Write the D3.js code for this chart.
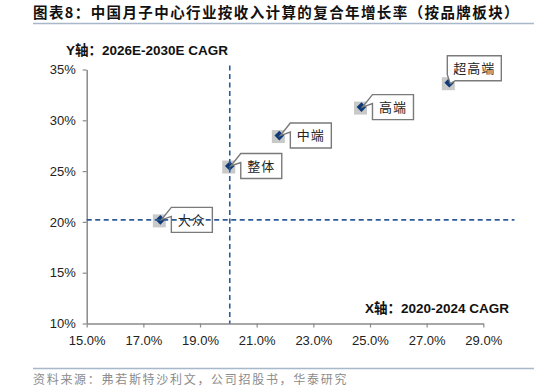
<!DOCTYPE html>
<html>
<head>
<meta charset="utf-8">
<script src="https://cdn.jsdelivr.net/npm/d3@7"></script>
<style>
  body { margin: 0; background: #fff; }
  .latin { font-family: "Liberation Sans", Arial, "Noto Sans CJK SC", sans-serif; }
  .cjk { font-family: "Noto Sans CJK SC", sans-serif; }
</style>
</head>
<body>
<div id="chart"></div>
<script>
// brand segments, x = 2020-2024 CAGR (%), y = 2026E-2030E CAGR (%)
const segments = ["大众", "整体", "中端", "高端", "超高端"];
const cagrHist = [17.6, 20.05, 21.8, 24.7, 27.8];
const cagrFcst = [20.2, 25.5, 28.5, 31.3, 33.7];
const labelSide = ["right", "right", "right", "right", "above"];

const xTicks = [15, 17, 19, 21, 23, 25, 27, 29];
const yTicks = [10, 15, 20, 25, 30, 35];

// dashed reference lines
const refX = [20.05];
const refY = [20.2];

const W = 534, H = 392;
const navy = "#0d3b78", dashBlue = "#2d5b98", axisGrey = "#8a8a8a";

const svg = d3.select("#chart").append("svg")
    .attr("width", W).attr("height", H);

const x = d3.scaleLinear().domain([15, 29]).range([86.7, 483.3]);
const y = d3.scaleLinear().domain([10, 35]).range([323.5, 69.5]);

// title + rules
svg.append("text").attr("class", "cjk")
    .attr("x", 33).attr("y", 18)
    .style("font-size", "14.5px").style("font-weight", "bold")
    .style("letter-spacing", "1.4px").style("fill", "#111")
    .text("图表8：中国月子中心行业按收入计算的复合年增长率（按品牌板块）");
svg.append("line").attr("x1", 33).attr("x2", W).attr("y1", 23.5).attr("y2", 23.5)
    .style("stroke", "#a7b8cb").style("stroke-width", 1.5);

svg.append("line").attr("x1", 33).attr("x2", W).attr("y1", 368.5).attr("y2", 368.5)
    .style("stroke", "#a7b8cb").style("stroke-width", 1.5);
svg.append("text").attr("class", "cjk")
    .attr("x", 33).attr("y", 384)
    .style("font-size", "12px").style("letter-spacing", "1.7px").style("fill", "#8c8c8c")
    .text("资料来源：弗若斯特沙利文，公司招股书，华泰研究");

// axes
const yAxis = svg.append("g").attr("class", "latin")
    .attr("transform", `translate(${x.range()[0]},0)`)
    .call(d3.axisLeft(y).tickValues(yTicks).tickFormat(d => d + "%")
        .tickSize(4).tickSizeOuter(0).tickPadding(7));
const xAxis = svg.append("g").attr("class", "latin")
    .attr("transform", `translate(0,${y.range()[0]})`)
    .call(d3.axisBottom(x).tickValues(xTicks).tickFormat(d => d3.format(".1f")(d) + "%")
        .tickSize(4).tickSizeOuter(0).tickPadding(8));

[xAxis, yAxis].forEach(g => {
    g.select(".domain").style("stroke", axisGrey).style("stroke-width", 1.5);
    g.selectAll(".tick line").style("stroke", axisGrey).style("stroke-width", 1.2);
    g.selectAll(".tick text").style("font-size", "13px").style("fill", "#222")
        .style("font-family", "'Liberation Sans', Arial, sans-serif");
});

// axis titles
svg.append("text").attr("class", "latin")
    .attr("x", 66).attr("y", 55)
    .style("font-size", "13.5px").style("font-weight", "bold").style("fill", "#111")
    .text("Y轴：2026E-2030E CAGR");
svg.append("text").attr("class", "latin")
    .attr("x", 509).attr("y", 312.5).attr("text-anchor", "end")
    .style("font-size", "13.5px").style("font-weight", "bold").style("fill", "#111")
    .text("X轴：2020-2024 CAGR");

const pts = segments.map((name, i) => ({
    name, side: labelSide[i],
    px: x(cagrHist[i]), py: y(cagrFcst[i])
}));

// markers: grey square shadow + navy diamond
const mk = svg.append("g").selectAll("g").data(pts).join("g")
    .attr("transform", d => `translate(${d.px},${d.py})`);
mk.append("rect")
    .attr("x", -7.5).attr("y", -5.5).attr("width", 13).attr("height", 13)
    .style("fill", "#c9c9c9");
mk.append("path")
    .attr("d", d3.symbol().type(d3.symbolDiamond2).size(60))
    .style("fill", navy);

// callout labels
const fs = 13, boxH = 25;
const callouts = svg.append("g").selectAll("g").data(pts).join("g");
callouts.each(function(d) {
    const g = d3.select(this);
    const w = d.name.length * fs + 15;
    let x0, y0;
    if (d.side === "above") { x0 = d.px - 2; y0 = d.py - 2 - boxH; }
    else { x0 = d.px + 11; y0 = d.py - boxH / 2; }
    const x1 = x0 + w, y1 = y0 + boxH;
    // wedge base on left edge, tip at the point
    const path = d.side === "above"
        ? `M${x0},${y0}H${x1}V${y1}H${x0 + 8}L${d.px + 1},${d.py + 1}L${x0},${y1 - 6}Z`
        : `M${x0},${y0}H${x1}V${y1}H${x0}V${y0 + 9}L${d.px + 1},${d.py}Z`;
    g.append("path").attr("d", path)
        .style("fill", "#fff").style("stroke", "#7a7a7a").style("stroke-width", 1.4);
    g.append("text").attr("class", "cjk")
        .attr("x", (x0 + x1) / 2).attr("y", (y0 + y1) / 2)
        .attr("text-anchor", "middle").attr("dy", "0.36em")
        .style("font-size", fs + "px").style("letter-spacing", "1px").style("fill", "#222")
        .text(d.name);
});

// dashed reference lines drawn on top
svg.append("g").selectAll("line").data(refX).join("line")
    .attr("x1", d => x(d)).attr("x2", d => x(d))
    .attr("y1", y(35.4)).attr("y2", y(10))
    .style("stroke", dashBlue).style("stroke-width", 1.6).style("stroke-dasharray", "5,3.5");
svg.append("g").selectAll("line").data(refY).join("line")
    .attr("x1", x(15)).attr("x2", x(30.1))
    .attr("y1", d => y(d)).attr("y2", d => y(d))
    .style("stroke", dashBlue).style("stroke-width", 1.6).style("stroke-dasharray", "5,3.5");
</script>
</body>
</html>
